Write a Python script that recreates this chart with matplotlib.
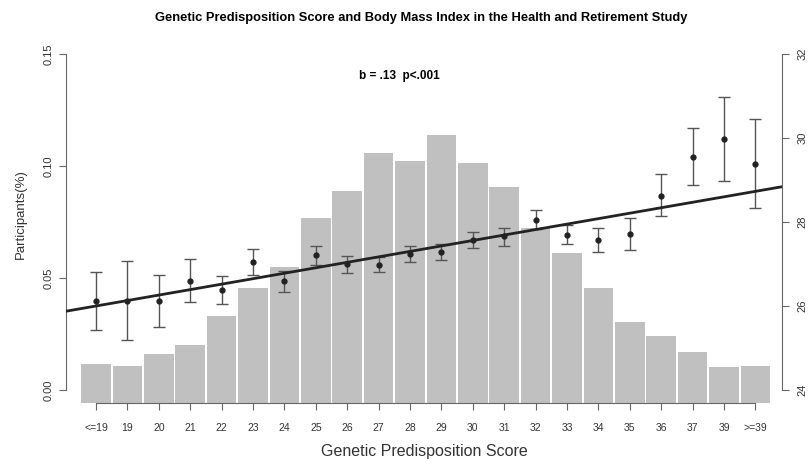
import numpy as np
import matplotlib.pyplot as plt

plt.rcParams['font.family'] = ['Liberation Sans', 'DejaVu Sans']

# score groups on the x axis
score_labels = ['<=19', '19', '20', '21', '22', '23', '24', '25', '26', '27', '28',
                '29', '30', '31', '32', '33', '34', '35', '36', '37', '39', '>=39']

# share of participants in each score group (left axis)
participants = [0.0115, 0.0107, 0.0159, 0.0201, 0.0331, 0.0456, 0.0547, 0.0770,
                0.0889, 0.1059, 0.1024, 0.1137, 0.1015, 0.0908, 0.0724, 0.0611,
                0.0455, 0.0303, 0.0243, 0.0168, 0.0103, 0.0107]

# mean BMI per group with confidence limits (right axis)
bmi_mean = [26.13, 26.13, 26.11, 26.60, 26.39, 27.05, 26.60, 27.21, 27.00, 26.98, 27.25,
            27.29, 27.57, 27.67, 28.05, 27.70, 27.57, 27.72, 28.63, 29.56, 29.97, 29.38]
bmi_lo = [25.44, 25.19, 25.49, 26.10, 26.05, 26.75, 26.33, 26.97, 26.79, 26.80, 27.05,
          27.10, 27.38, 27.43, 27.83, 27.48, 27.28, 27.33, 28.14, 28.88, 28.98, 28.33]
bmi_hi = [26.81, 27.06, 26.75, 27.11, 26.71, 27.36, 26.84, 27.43, 27.18, 27.17, 27.44,
          27.48, 27.76, 27.86, 28.29, 27.92, 27.86, 28.10, 29.14, 30.23, 30.98, 30.45]

# fitted regression of BMI on score group
slope = 0.13
intercept = 26.0

x = np.arange(len(score_labels))
mean = np.array(bmi_mean)
yerr = [mean - np.array(bmi_lo), np.array(bmi_hi) - mean]

fig = plt.figure(figsize=(8.08, 4.62), dpi=100)
ax = fig.add_axes([0.0817, 0.1268, 0.8861, 0.7853])

axis_col = '#666666'
text_col = '#333333'

# histogram-style bars sit on the floor of the plotting region
floor = -0.006
ax.bar(x, np.array(participants) - floor, bottom=floor, width=0.94,
       color='#c0c0c0', linewidth=0, zorder=1)
ax.set_xlim(-0.955, 21.847)
ax.set_ylim(floor, 0.156)
ax.set_xticks(x)
ax.set_xticklabels(score_labels, fontsize=7.5, color=text_col)
ax.set_yticks([0, 0.05, 0.10, 0.15])
ax.set_yticklabels(['0.00', '0.05', '0.10', '0.15'], fontsize=8, color=text_col,
                   rotation=90, va='center')
ax.tick_params(axis='x', length=5, pad=9, color=axis_col)
ax.tick_params(axis='y', length=5, pad=4, color=axis_col)
ax.set_ylabel('Participants(%)', fontsize=9.5, color=text_col)
ax.yaxis.set_label_coords(-0.055, 0.522)
ax.set_xlabel('Genetic Predisposition Score', fontsize=11.5, color=text_col, labelpad=8)
for side in ['top', 'right']:
    ax.spines[side].set_visible(False)
ax.spines['left'].set_bounds(0, 0.15)
ax.spines['bottom'].set_bounds(0, len(x) - 1)
for side in ['left', 'bottom']:
    ax.spines[side].set_color(axis_col)

# BMI means, error bars and fitted line on the second axis
ax2 = ax.twinx()
ax2.set_ylim(23.68, 32.32)
ax2.errorbar(x, mean, yerr=yerr, fmt='o', ms=3.5, color='#222222',
             ecolor='#555555', elinewidth=1, capsize=4.5, capthick=1, zorder=3)
ax2.axline((0, intercept), slope=slope, color='#222222', lw=2, zorder=4)
ax2.set_yticks([24, 26, 28, 30, 32])
ax2.set_yticklabels(['24', '26', '28', '30', '32'], fontsize=8, color=text_col,
                    rotation=90, va='center')
ax2.tick_params(axis='y', length=5, pad=6, color=axis_col)
for side in ['top', 'left', 'bottom']:
    ax2.spines[side].set_visible(False)
ax2.spines['right'].set_bounds(24, 32)
ax2.spines['right'].set_color(axis_col)

ax.text(0.466, 0.903, 'b = .13  p<.001', transform=ax.transAxes, ha='center',
        va='center', fontsize=8.5, fontweight='bold')
fig.suptitle('Genetic Predisposition Score and Body Mass Index in the Health and Retirement Study',
             x=0.521, y=0.975, fontsize=9.3, fontweight='bold')

fig.savefig('out.png', dpi=100)
